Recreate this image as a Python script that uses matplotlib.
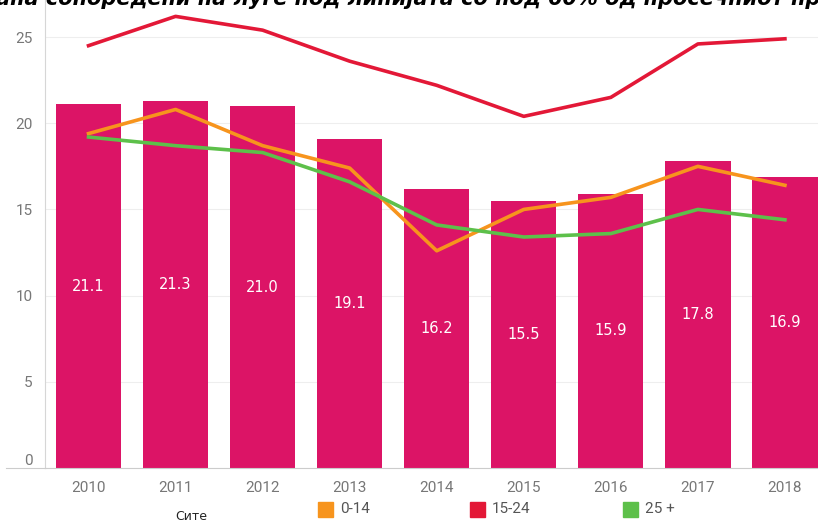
import matplotlib.pyplot as plt
import numpy as np

years = ["2010", "2011", "2012", "2013", "2014", "2015", "2016", "2017", "2018"]
site = [21.1, 21.3, 21.0, 19.1, 16.2, 15.5, 15.9, 17.8, 16.9]
age_0_14 = [19.4, 20.8, 18.7, 17.4, 12.6, 15.0, 15.7, 17.5, 16.4]
age_15_24 = [24.5, 26.2, 25.4, 23.6, 22.2, 20.4, 21.5, 24.6, 24.9]
age_25 = [19.2, 18.7, 18.3, 16.6, 14.1, 13.4, 13.6, 15.0, 14.4]
yticks = [0, 5, 10, 15, 20, 25]

bar_col = "#DC1466"
red = "#E31837"
orange = "#F7941D"
green = "#5DC04A"

fig = plt.figure(figsize=(8.18, 5.2), dpi=100)
ax = fig.add_axes([45 / 818, 52 / 520, 1 - 45 / 818, 468 / 520])

x = np.arange(len(years))
bars = ax.bar(x, site, width=0.75, color=bar_col, zorder=2)
for xi, v in zip(x, site):
    ax.text(xi, v / 2, "%.1f" % v, ha="center", va="center", color="white",
            fontsize=10.5, family="DejaVu Sans", zorder=3)

ax.plot(x, age_15_24, color=red, lw=2.6, zorder=4)
ax.plot(x, age_0_14, color=orange, lw=2.6, zorder=4)
ax.plot(x, age_25, color=green, lw=2.6, zorder=4)

ax.set_xlim(-0.5, 8.38)
ax.set_ylim(0, 27.15)
ax.set_yticks(yticks)
ax.set_xticks(x)
ax.set_xticklabels(years)
ax.grid(axis="y", color="#eeeeee", lw=0.8, zorder=0)
for s in ["top", "right"]:
    ax.spines[s].set_visible(False)
ax.spines["left"].set_color("#d6d6d6")
ax.spines["bottom"].set_color("#cccccc")
ax.plot([-0.05, 0], [0, 0], transform=ax.transAxes, color="#cccccc", lw=0.8, clip_on=False)
ax.tick_params(axis="y", length=0, pad=9, labelsize=11, labelcolor="#777777")
ax.tick_params(axis="x", length=0, pad=9, labelsize=11, labelcolor="#777777")
for lab in ax.get_xticklabels() + ax.get_yticklabels():
    lab.set_family("Roboto")
ax.get_yticklabels()[0].set_va("bottom")

# legend row along the bottom edge
fig.text(175 / 818, 4 / 520, "Сите", fontsize=9, family="DejaVu Sans", ha="left", va="center", color="#222222")
items = [("0-14", orange, 318), ("15-24", red, 470), ("25 +", green, 623)]
for name, col, px in items:
    fig.patches.append(plt.Rectangle((px / 818, 3 / 520), 15 / 818, 15 / 520,
                                     transform=fig.transFigure, color=col, figure=fig))
    fig.text((px + 22) / 818, 11 / 520, name, fontsize=11, family="Roboto",
             ha="left", va="center", color="#555555")

fig.text(-0.005, 1.002, "ана сопоредени на луѓе под линијата со под 60% од просечниот пра",
         fontsize=15, fontweight="bold", style="italic", family="DejaVu Sans",
         ha="left", va="center")

fig.savefig("out.png", dpi=100)
